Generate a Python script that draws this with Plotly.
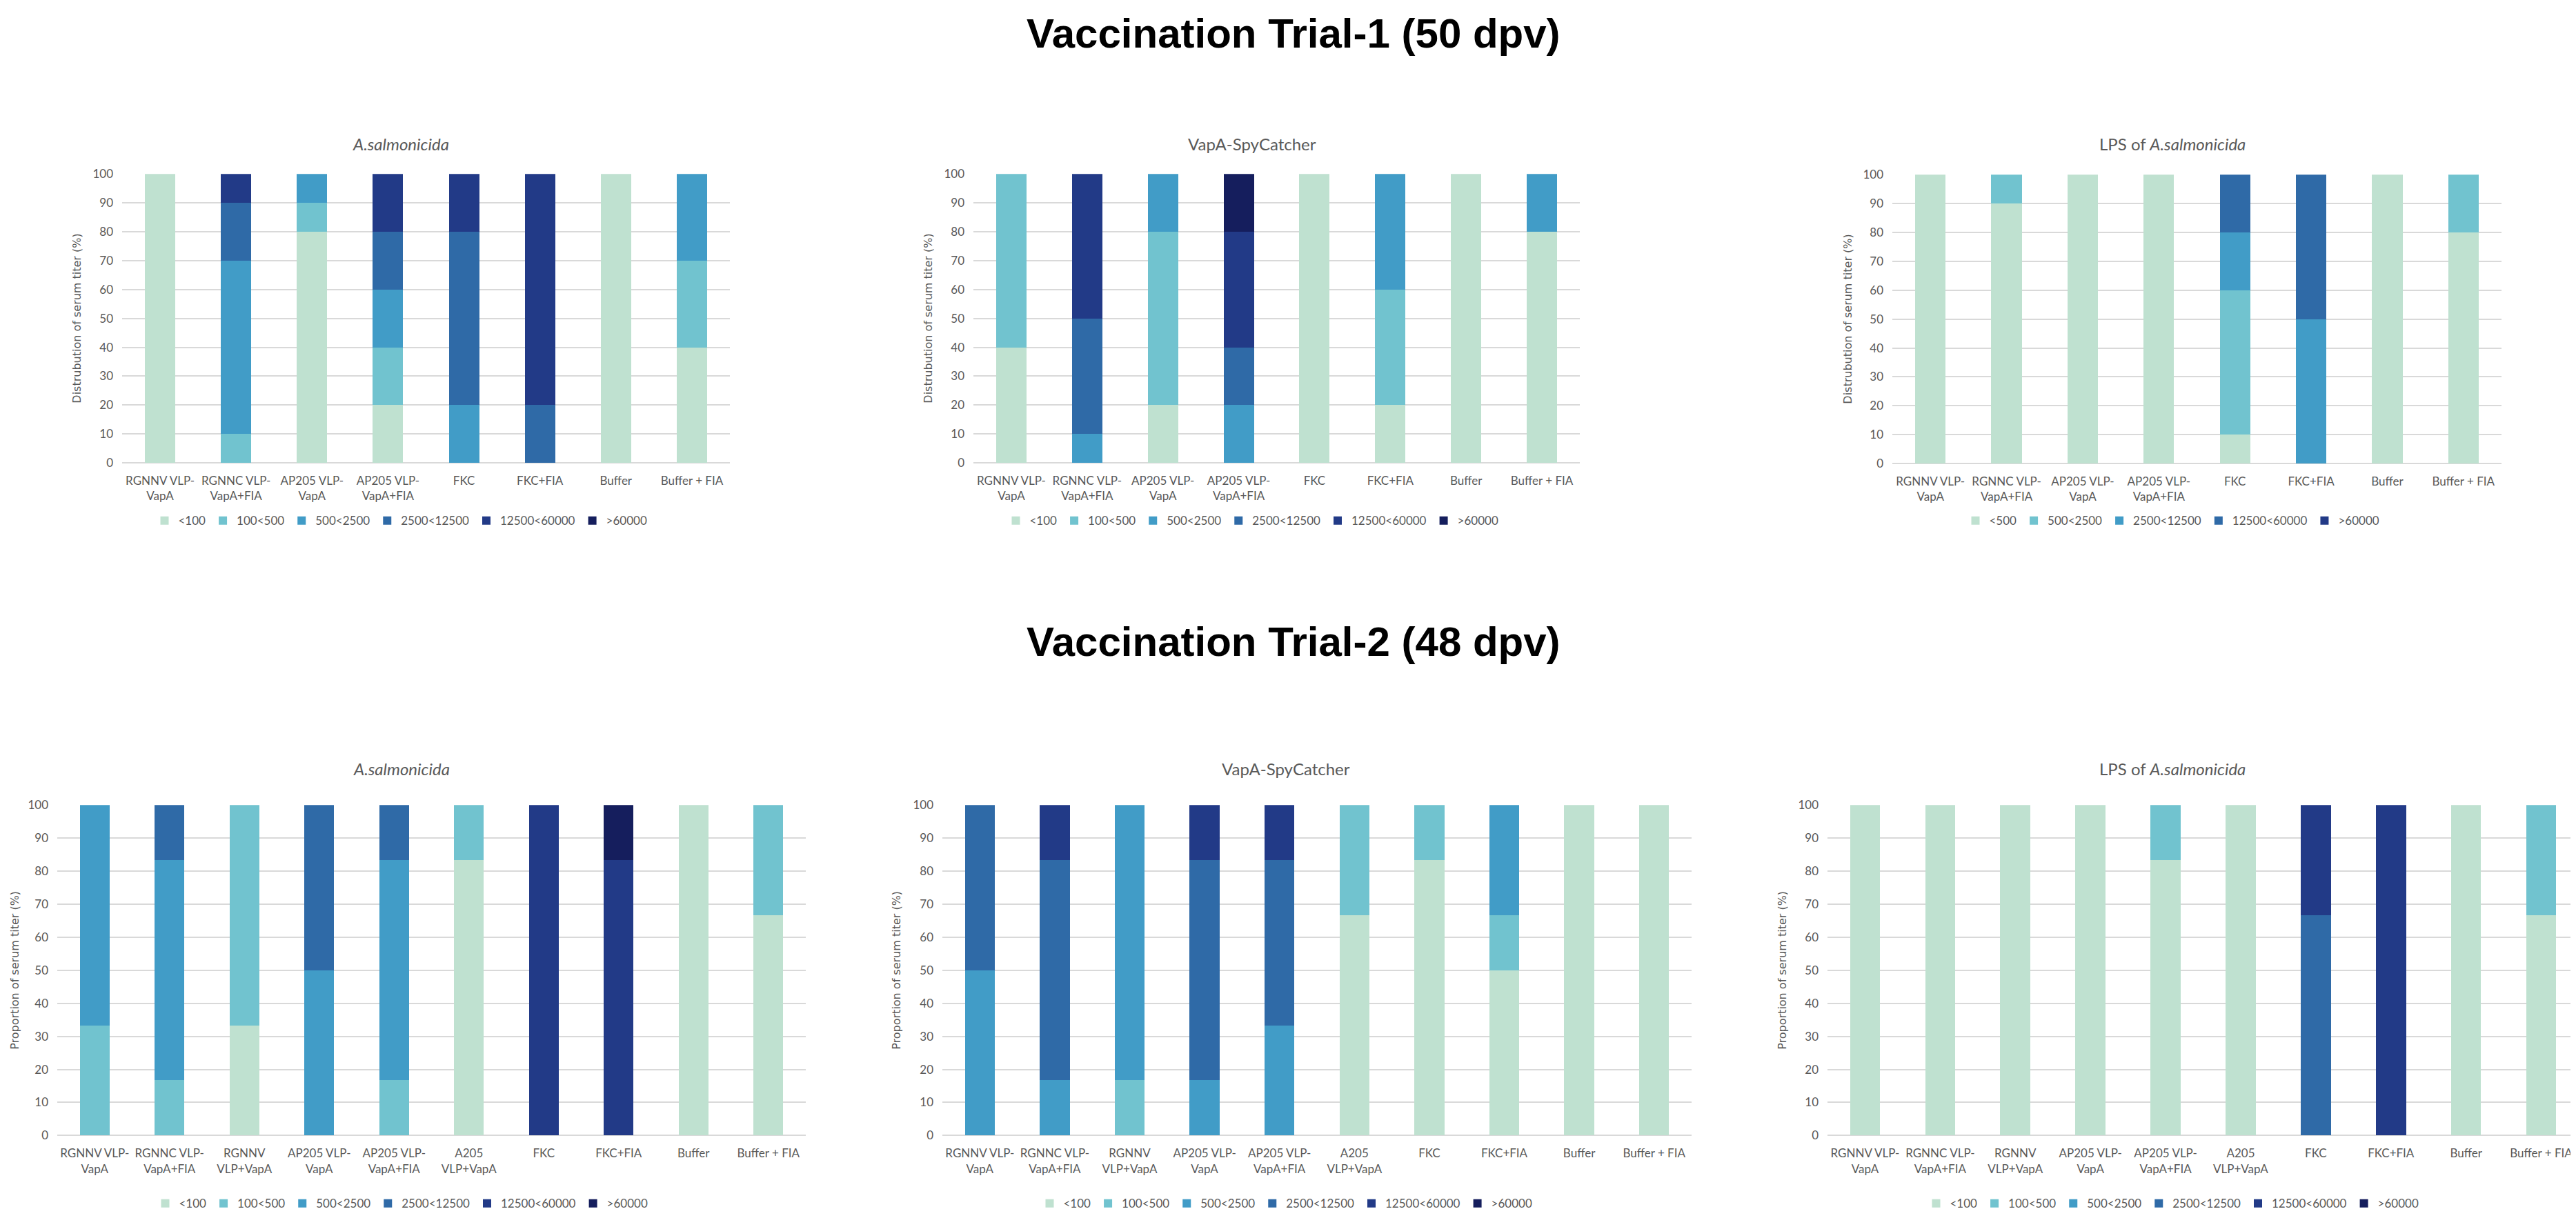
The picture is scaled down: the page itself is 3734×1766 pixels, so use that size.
import plotly.graph_objects as go

# titer classes (trial 1 LPS panel uses one class fewer)
titer_bins = ["<100", "100<500", "500<2500", "2500<12500", "12500<60000", ">60000"]
lps_bins_t1 = ["<500", "500<2500", "2500<12500", "12500<60000", ">60000"]

bin_colors = ["#bfe1d0", "#71c3cf", "#419cc7", "#2f6aa7", "#223a87", "#151e5d"]

groups_t1 = ["RGNNV VLP-<br>VapA", "RGNNC VLP-<br>VapA+FIA", "AP205 VLP-<br>VapA",
             "AP205 VLP-<br>VapA+FIA", "FKC", "FKC+FIA", "Buffer", "Buffer + FIA"]
groups_t2 = ["RGNNV VLP-<br>VapA", "RGNNC VLP-<br>VapA+FIA", "RGNNV<br>VLP+VapA",
             "AP205 VLP-<br>VapA", "AP205 VLP-<br>VapA+FIA", "A205<br>VLP+VapA",
             "FKC", "FKC+FIA", "Buffer", "Buffer + FIA"]

# one row per titer class, one column per group (% of fish)
t1_asal = [
    [100, 0, 80, 20, 0, 0, 100, 40],
    [0, 10, 10, 20, 0, 0, 0, 30],
    [0, 60, 10, 20, 20, 0, 0, 30],
    [0, 20, 0, 20, 60, 20, 0, 0],
    [0, 10, 0, 20, 20, 80, 0, 0],
    [0, 0, 0, 0, 0, 0, 0, 0],
]
t1_vapa = [
    [40, 0, 20, 0, 100, 20, 100, 80],
    [60, 0, 60, 0, 0, 40, 0, 0],
    [0, 10, 20, 20, 0, 40, 0, 20],
    [0, 40, 0, 20, 0, 0, 0, 0],
    [0, 50, 0, 40, 0, 0, 0, 0],
    [0, 0, 0, 20, 0, 0, 0, 0],
]
t1_lps = [
    [100, 90, 100, 100, 10, 0, 100, 80],
    [0, 10, 0, 0, 50, 0, 0, 20],
    [0, 0, 0, 0, 20, 50, 0, 0],
    [0, 0, 0, 0, 20, 50, 0, 0],
    [0, 0, 0, 0, 0, 0, 0, 0],
]
t2_asal = [
    [0, 0, 33.3, 0, 0, 83.3, 0, 0, 100, 66.7],
    [33.3, 16.7, 66.7, 0, 16.7, 16.7, 0, 0, 0, 33.3],
    [66.7, 66.7, 0, 50, 66.7, 0, 0, 0, 0, 0],
    [0, 16.7, 0, 50, 16.7, 0, 0, 0, 0, 0],
    [0, 0, 0, 0, 0, 0, 100, 83.3, 0, 0],
    [0, 0, 0, 0, 0, 0, 0, 16.7, 0, 0],
]
t2_vapa = [
    [0, 0, 0, 0, 0, 66.7, 83.3, 50, 100, 100],
    [0, 0, 16.7, 0, 0, 33.3, 16.7, 16.7, 0, 0],
    [50, 16.7, 83.3, 16.7, 33.3, 0, 0, 33.3, 0, 0],
    [50, 66.7, 0, 66.7, 50, 0, 0, 0, 0, 0],
    [0, 16.7, 0, 16.7, 16.7, 0, 0, 0, 0, 0],
    [0, 0, 0, 0, 0, 0, 0, 0, 0, 0],
]
t2_lps = [
    [100, 100, 100, 100, 83.3, 100, 0, 0, 100, 66.7],
    [0, 0, 0, 0, 16.7, 0, 0, 0, 0, 33.3],
    [0, 0, 0, 0, 0, 0, 0, 0, 0, 0],
    [0, 0, 0, 0, 0, 0, 66.7, 0, 0, 0],
    [0, 0, 0, 0, 0, 0, 33.3, 100, 0, 0],
    [0, 0, 0, 0, 0, 0, 0, 0, 0, 0],
]

W, H = 3734, 1766
GREY = "#595959"
BODY = "Lato"


def fx(px):
    return px / W


def fy(px):
    return 1 - px / H


# pixel boxes of each plot area, chart centre (title/legend), y-title x
panels = [
    dict(vals=t1_asal, bins=titer_bins, cats=groups_t1, title="<i>A.salmonicida</i>",
         ytitle="Distrubution of serum titer (%)", xs=(169, 1050), ys=(236, 660),
         mid=573, ytx=104, sub_y=192, leg_y=745),
    dict(vals=t1_vapa, bins=titer_bins, cats=groups_t1, title="VapA-SpyCatcher",
         ytitle="Distrubution of serum titer (%)", xs=(1403, 2282), ys=(236, 660),
         mid=1807, ytx=1338, sub_y=192, leg_y=745),
    dict(vals=t1_lps, bins=lps_bins_t1, cats=groups_t1, title="LPS of <i>A.salmonicida</i>",
         ytitle="Distrubution of serum titer (%)", xs=(2735, 3618), ys=(237, 661),
         mid=3141, ytx=2671, sub_y=192, leg_y=745),
    dict(vals=t2_asal, bins=titer_bins, cats=groups_t2, title="<i>A.salmonicida</i>",
         ytitle="Proportion of serum titer (%)", xs=(75, 1160), ys=(1162, 1647),
         mid=574, ytx=14, sub_y=1109, leg_y=1747),
    dict(vals=t2_vapa, bins=titer_bins, cats=groups_t2, title="VapA-SpyCatcher",
         ytitle="Proportion of serum titer (%)", xs=(1358, 2444), ys=(1162, 1647),
         mid=1856, ytx=1292, sub_y=1109, leg_y=1747),
    dict(vals=t2_lps, bins=titer_bins, cats=groups_t2, title="LPS of <i>A.salmonicida</i>",
         ytitle="Proportion of serum titer (%)", xs=(2641, 3730), ys=(1162, 1647),
         mid=3141, ytx=2576, sub_y=1109, leg_y=1747),
]

fig = go.Figure()
annotations = []
layout_axes = {}

for i, p in enumerate(panels, start=1):
    sfx = "" if i == 1 else str(i)
    for j, name in enumerate(p["bins"]):
        fig.add_trace(go.Bar(
            x=p["cats"], y=p["vals"][j], name=name,
            marker=dict(color=bin_colors[j], line=dict(width=0)),
            xaxis="x" + sfx, yaxis="y" + sfx, legend="legend" + sfx,
        ))
    layout_axes["xaxis" + sfx] = dict(
        domain=[fx(p["xs"][0]), fx(p["xs"][1])], anchor="y" + sfx,
        showgrid=False, showline=False, zeroline=False, ticks="",
        tickfont=dict(family=BODY, size=17, color=GREY), ticklabelstandoff=14,
        tickangle=0, fixedrange=True,
    )
    layout_axes["yaxis" + sfx] = dict(
        domain=[fy(p["ys"][1]), fy(p["ys"][0])], anchor="x" + sfx,
        range=[0, 100], dtick=10, showgrid=True, gridcolor="#d9d9d9", gridwidth=2,
        zeroline=True, zerolinecolor="#d9d9d9", zerolinewidth=2, showline=False,
        ticks="", tickfont=dict(family=BODY, size=17, color=GREY), ticklabelstandoff=12,
        fixedrange=True,
    )
    layout_axes["legend" + sfx] = dict(
        orientation="h", x=fx(p["mid"]), xanchor="center", y=fy(p["leg_y"]), yanchor="middle",
        font=dict(family=BODY, size=17, color=GREY), bgcolor="rgba(0,0,0,0)",
        traceorder="normal",
    )
    annotations.append(dict(
        text=p["title"], x=fx(p["mid"]), y=fy(p["sub_y"]), xref="paper", yref="paper",
        xanchor="center", yanchor="middle", showarrow=False,
        font=dict(family=BODY, size=24, color=GREY),
    ))
    annotations.append(dict(
        text=p["ytitle"], x=fx(p["ytx"]), y=fy((p["ys"][0] + p["ys"][1]) / 2),
        xref="paper", yref="paper", xanchor="center", yanchor="middle",
        textangle=-90, showarrow=False,
        font=dict(family="DejaVu Sans", size=16, color=GREY),
    ))

for txt, yy in [("Vaccination Trial-1 (50 dpv)", 30), ("Vaccination Trial-2 (48 dpv)", 922)]:
    annotations.append(dict(
        text="<b>" + txt + "</b>", x=0.5, y=fy(yy), xref="paper", yref="paper",
        xanchor="center", yanchor="middle", showarrow=False,
        font=dict(family="Liberation Sans, Arial", size=60, color="black"),
    ))

fig.update_layout(
    width=W, height=H, margin=dict(l=0, r=0, t=0, b=0),
    paper_bgcolor="white", plot_bgcolor="white",
    barmode="stack", bargap=0.6,
    annotations=annotations,
    **layout_axes,
)

fig.write_html("out.html")
